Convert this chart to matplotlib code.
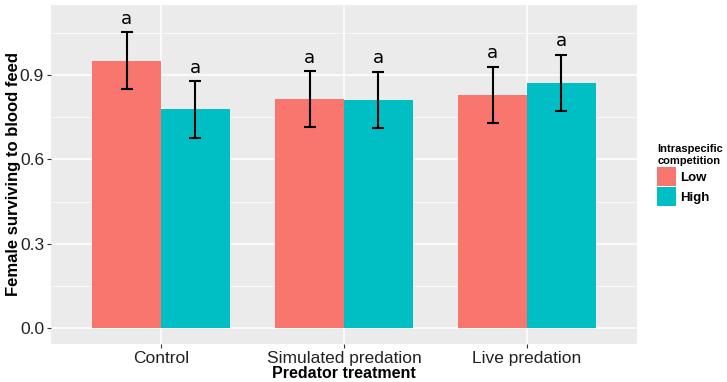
import numpy as np
import matplotlib; matplotlib.use('Agg')
import matplotlib.pyplot as plt
from matplotlib.patches import Patch

treatments = ['Control', 'Simulated predation', 'Live predation']
groups = ['Low', 'High']
colors = ['#F8766D', '#00BFC4']
means = {'Low': [0.952, 0.815, 0.830], 'High': [0.779, 0.812, 0.872]}
errs = {'Low': [0.101, 0.101, 0.101], 'High': [0.101, 0.101, 0.101]}
letters = {'Low': ['a', 'a', 'a'], 'High': ['a', 'a', 'a']}

plt.rcParams['font.family'] = ['Liberation Sans', 'DejaVu Sans']

fig = plt.figure(figsize=(7.27, 3.82), dpi=100)
ax = fig.add_axes([51/727, 1-344/382, (637-51)/727, (344-5)/382])
ax.set_facecolor('#EBEBEB')

x = np.arange(1, len(treatments)+1)
w = 0.375
for i, g in enumerate(groups):
    xs = x + (i - 0.5) * w
    ax.bar(xs, means[g], width=w, color=colors[i], zorder=2)
    ax.errorbar(xs, means[g], yerr=errs[g], fmt='none', ecolor='black',
                elinewidth=1.5, capsize=4.5, capthick=1.5, zorder=3)
    for xi, m, e, lab in zip(xs, means[g], errs[g], letters[g]):
        ax.text(xi, m + e + 0.015, lab, ha='center', va='bottom', fontsize=13,
                fontfamily='DejaVu Sans')

ax.set_xlim(0.4, 3.6)
ax.set_ylim(-0.057, 1.15)
ax.set_yticks([0.0, 0.3, 0.6, 0.9])
ax.set_yticklabels(['0.0', '0.3', '0.6', '0.9'])
ax.set_yticks([0.15, 0.45, 0.75, 1.05], minor=True)
ax.set_xticks(x)
ax.set_xticklabels(treatments)
ax.grid(which='major', color='white', lw=1.1, zorder=0)
ax.grid(which='minor', axis='y', color='white', lw=0.5, zorder=0)
ax.set_axisbelow(True)
for s in ax.spines.values():
    s.set_visible(False)
ax.tick_params(axis='both', which='major', length=3, color='#333333',
               labelsize=12.5, labelcolor='#222222', pad=2)
ax.tick_params(axis='y', which='minor', length=0)
ax.set_xlabel('Predator treatment', fontsize=11.5, fontweight='bold', labelpad=0)
ax.yaxis.set_label_coords(-0.052, 0.51)
ax.set_ylabel('Female surviving to blood feed', fontsize=12, fontweight='bold')

handles = [Patch(facecolor=c, edgecolor='none') for c in colors]
leg = fig.legend(handles, groups, title='Intraspecific\ncompetition',
                 loc='upper left', bbox_to_anchor=(652/727, 1-139/382),
                 frameon=False, handlelength=1.4, handleheight=1.9,
                 handletextpad=0.35, labelspacing=0.05, borderaxespad=0,
                 prop={'size': 9.5, 'weight': 'bold'},
                 title_fontproperties={'size': 8, 'weight': 'bold'})
leg._legend_box.align = 'left'

fig.savefig('out.png', dpi=100)
